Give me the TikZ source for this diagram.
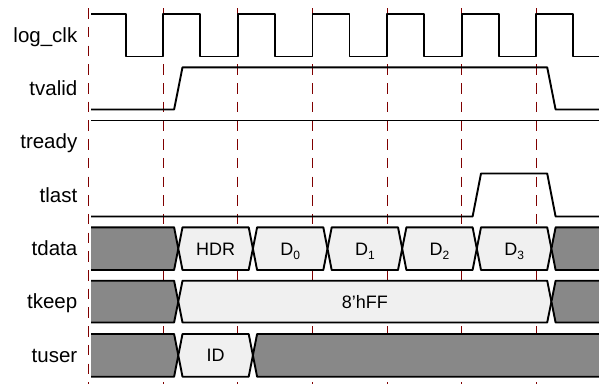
\documentclass[tikz,border=0pt]{standalone}
\usepackage{fontspec}
\setmainfont{Liberation Sans}
\definecolor{gridred}{RGB}{128,0,0}
\definecolor{busdark}{RGB}{136,136,136}
\definecolor{buslight}{RGB}{240,240,240}
\tikzset{
  wave/.style={line width=1.9pt, line join=round, draw=black},
  gridline/.style={draw=gridred, line width=1pt, dash pattern=on 10.5pt off 8.2pt, dash phase=10.5pt},
  siglbl/.style={anchor=base east, inner sep=0pt, font=\fontsize{20.5}{24}\selectfont},
  buslbl/.style={anchor=base, inner sep=0pt, font=\fontsize{18}{21}\selectfont},
}
\newcommand\hwid{4.2}
\newcommand\subx[1]{\raisebox{-4.5pt}{\fontsize{12}{14}\selectfont #1}}
% name, a, b, top, bot, fill, text
\newcommand\busseg[7]{%
  \filldraw[wave, fill=#6] ({#2+\hwid},#4) -- ({#3-\hwid},#4) -- (#3,{(#4+#5)/2}) -- ({#3-\hwid},#5) -- ({#2+\hwid},#5) -- (#2,{(#4+#5)/2}) -- cycle;
  \node[buslbl] (#1) at ({(#2+#3)/2},{(#4+#5)/2+6.4}) {#7};}
% b, top, bot, fill
\newcommand\busstart[4]{%
  \fill[#4] (91,#2) -- ({#1-\hwid},#2) -- (#1,{(#2+#3)/2}) -- ({#1-\hwid},#3) -- (91,#3) -- cycle;
  \draw[wave] (91,#2) -- ({#1-\hwid},#2) -- (#1,{(#2+#3)/2}) -- ({#1-\hwid},#3) -- (91,#3);}
% a, top, bot, fill
\newcommand\busend[4]{%
  \fill[#4] (599,#2) -- ({#1+\hwid},#2) -- (#1,{(#2+#3)/2}) -- ({#1+\hwid},#3) -- (599,#3) -- cycle;
  \draw[wave] (599,#2) -- ({#1+\hwid},#2) -- (#1,{(#2+#3)/2}) -- ({#1+\hwid},#3) -- (599,#3);}
\begin{document}
\begin{tikzpicture}[x=1pt,y=-1pt]
\useasboundingbox (0,0) rectangle (599,383);
% grid
\foreach \gx in {88.6,163.2,237.8,312.5,387.1,461.7,536.3}
  \draw[gridline] (\gx,0) -- (\gx,384);
% labels
\node[siglbl] (lclk) at (77.5,42.5) {log\_clk};
\node[siglbl] (lvalid) at (77.5,95.7) {tvalid};
\node[siglbl] (lready) at (77.5,148.9) {tready};
\node[siglbl] (llast) at (77.5,202.3) {tlast};
\node[siglbl] (ldata) at (77.5,255.9) {tdata};
\node[siglbl] (lkeep) at (77.5,308.9) {tkeep};
\node[siglbl] (luser) at (77.5,362.6) {tuser};
% clock
\draw[wave] (91,14)
  -- (125.6,14) -- (125.6,56.5) -- (163.2,56.5) -- (163.2,14)
  -- (200.2,14) -- (200.2,56.5) -- (237.8,56.5) -- (237.8,14)
  -- (274.8,14) -- (274.8,56.5) -- (312.5,56.5) -- (312.5,14)
  -- (349.5,14) -- (349.5,56.5) -- (387.1,56.5) -- (387.1,14)
  -- (424.1,14) -- (424.1,56.5) -- (461.7,56.5) -- (461.7,14)
  -- (498.7,14) -- (498.7,56.5) -- (536.3,56.5) -- (536.3,14)
  -- (573.3,14) -- (573.3,56.5) -- (599,56.5);
% tvalid
\draw[wave] (91,109.5) -- (174.1,109.5) -- (182.5,67.3) -- (547.2,67.3) -- (555.6,109.5) -- (599,109.5);
% tready
\draw[wave] (91,120.5) -- (599,120.5);
% tlast
\draw[wave] (91,216.5) -- (472.6,216.5) -- (481,173.5) -- (547.2,173.5) -- (555.6,216.5) -- (599,216.5);
% tdata
\busstart{178.3}{227.3}{270}{busdark}
\busseg{hdr}{178.3}{252.9}{227.3}{270}{buslight}{HDR}
\busseg{d0}{252.9}{327.5}{227.3}{270}{buslight}{D\subx{0}}
\busseg{d1}{327.5}{402.2}{227.3}{270}{buslight}{D\subx{1}}
\busseg{d2}{402.2}{476.8}{227.3}{270}{buslight}{D\subx{2}}
\busseg{d3}{476.8}{551.4}{227.3}{270}{buslight}{D\subx{3}}
\busend{551.4}{227.3}{270}{busdark}
% tkeep
\busstart{178.3}{280.7}{322.5}{busdark}
\busseg{keep}{178.3}{551.4}{280.7}{322.5}{buslight}{8’hFF}
\busend{551.4}{280.7}{322.5}{busdark}
% tuser
\busstart{178.3}{334}{376.7}{busdark}
\busseg{id}{178.3}{252.9}{334}{376.7}{buslight}{ID}
\busend{252.9}{334}{376.7}{busdark}
\end{tikzpicture}
\end{document}
